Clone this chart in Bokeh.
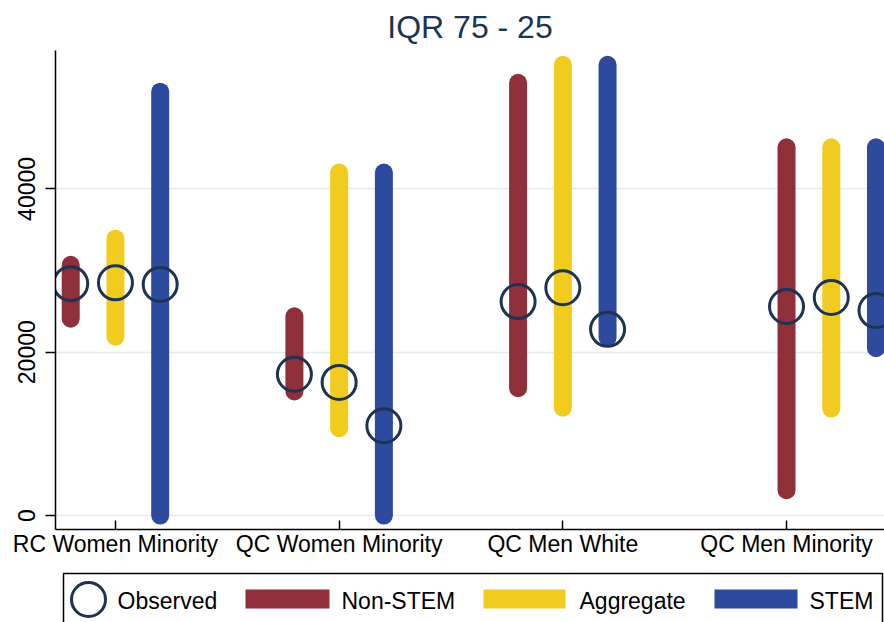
from bokeh.plotting import figure
from bokeh.models import Range1d, FixedTicker, ColumnDataSource
from bokeh.layouts import column
from bokeh.core.properties import value
from bokeh.embed import file_html
from bokeh.resources import INLINE

# ---- data ----
categories = ["RC Women Minority", "QC Women Minority", "QC Men White", "QC Men Minority"]
series = ["Non-STEM", "Aggregate", "STEM"]

nonstem_low = [24100, 15200, 15600, 3100]
nonstem_high = [30700, 24400, 53000, 45100]
aggregate_low = [21900, 10700, 13200, 13100]
aggregate_high = [33900, 42000, 55200, 45100]
stem_low = [0, 0, 21800, 20500]
stem_high = [51900, 42000, 55200, 45100]

obs_nonstem = [28400, 17300, 26200, 25600]
obs_aggregate = [28500, 16300, 27900, 26700]
obs_stem = [28300, 11000, 22800, 25100]

y_ticks = [0, 20000, 40000]
legend_labels = ["Observed", "Non-STEM", "Aggregate", "STEM"]

# ---- style ----
FONT = "Liberation Sans"
colors = {"Non-STEM": "#8e2f3a", "Aggregate": "#f2cb1f", "STEM": "#2d4a9f"}
navy = "#1c3452"

W = 884
MAIN_H = 563
LH = 59
FRAME_L = 55

p = figure(width=W, height=MAIN_H, output_backend="svg", toolbar_location=None,
           x_range=Range1d(0.732, 4.438), y_range=Range1d(-1710, 56950),
           min_border_left=FRAME_L, min_border_right=0, min_border_top=50, min_border_bottom=34)
p.outline_line_color = None
p.background_fill_color = "white"
p.border_fill_color = "white"

p.title.text = "IQR 75 - 25"
p.title.align = "center"
p.title.text_font = FONT
p.title.text_font_size = "32px"
p.title.text_font_style = "normal"
p.title.text_color = navy
p.title.standoff = 12
p.title.offset = 4

# bar positions: slots -0.2, 0, +0.2 around each category; last group starts at its tick
offsets = [-0.2, 0.0, 0.2]
def xpos(slot):
    return [i + 1 + offsets[slot] + (0.2 if i == 3 else 0.0) for i in range(len(categories))]

lows = [nonstem_low, aggregate_low, stem_low]
highs = [nonstem_high, aggregate_high, stem_high]
obs = [obs_nonstem, obs_aggregate, obs_stem]

for s, name in enumerate(series):
    src = ColumnDataSource(dict(x=xpos(s), lo=lows[s], hi=highs[s]))
    p.segment(x0="x", y0="lo", x1="x", y1="hi", source=src, line_color=colors[name],
              line_width=18, line_cap="round")

for s, name in enumerate(series):
    src = ColumnDataSource(dict(x=xpos(s), y=obs[s]))
    p.scatter(x="x", y="y", source=src, marker="circle", size=34, fill_color=None,
              line_color=navy, line_width=3)

# axes
p.xaxis.ticker = FixedTicker(ticks=[1, 2, 3, 4])
p.xaxis.major_label_overrides = {i + 1: c for i, c in enumerate(categories)}
p.xaxis.major_tick_in = 9
p.xaxis.major_tick_out = 0
p.xaxis.minor_tick_line_color = None
p.xaxis.major_label_standoff = 1
p.xaxis.major_label_text_font = FONT
p.xaxis.major_label_text_font_size = "23px"
p.xaxis.major_label_text_color = "black"
p.xaxis.axis_line_color = "black"
p.xaxis.axis_line_width = 1.5
p.xaxis.major_tick_line_width = 1.5
p.xgrid.grid_line_color = None

p.yaxis.ticker = FixedTicker(ticks=y_ticks)
p.yaxis.major_label_orientation = "vertical"
p.yaxis.major_tick_out = 10
p.yaxis.major_tick_in = 0
p.yaxis.minor_tick_line_color = None
p.yaxis.major_label_standoff = 10
p.yaxis.major_label_text_font = FONT
p.yaxis.major_label_text_font_size = "23px"
p.yaxis.major_label_text_color = "black"
p.yaxis.axis_line_color = "black"
p.yaxis.axis_line_width = 1.5
p.yaxis.major_tick_line_width = 1.5
p.ygrid.ticker = FixedTicker(ticks=y_ticks)
p.ygrid.grid_line_color = "#e3edf1"
p.ygrid.grid_line_width = 1.5

# ---- legend panel (drawn in its own small figure below; its frame is aligned
# with the main frame by the column layout, so its x range starts at FRAME_L) ----
leg = figure(width=W, height=LH, output_backend="svg", toolbar_location=None,
             x_axis_type=None, y_axis_type=None,
             x_range=Range1d(FRAME_L, W), y_range=Range1d(LH, 0),
             min_border=0, min_border_left=0, min_border_right=0,
             min_border_top=0, min_border_bottom=0)
leg.grid.visible = False
leg.outline_line_color = None

leg.quad(left=[63], right=[882], top=[10], bottom=[LH + 20], fill_color=None,
         line_color="black", line_width=1.5)
leg.scatter(x=[88], y=[36], marker="circle", size=34, fill_color=None,
            line_color=navy, line_width=3)
leg.quad(left=[245, 483, 714], right=[329, 565, 797], top=[26] * 3, bottom=[45] * 3,
         fill_color=[colors[n] for n in series], line_color=None)
leg.text(x=[117, 341, 579, 809], y=[37] * 4, text=legend_labels,
         text_font=value(FONT), text_font_size="23px", text_color="black",
         text_baseline="middle", text_align="left")

layout = column(p, leg, spacing=0)
open("out.html", "w").write(file_html(layout, INLINE))
